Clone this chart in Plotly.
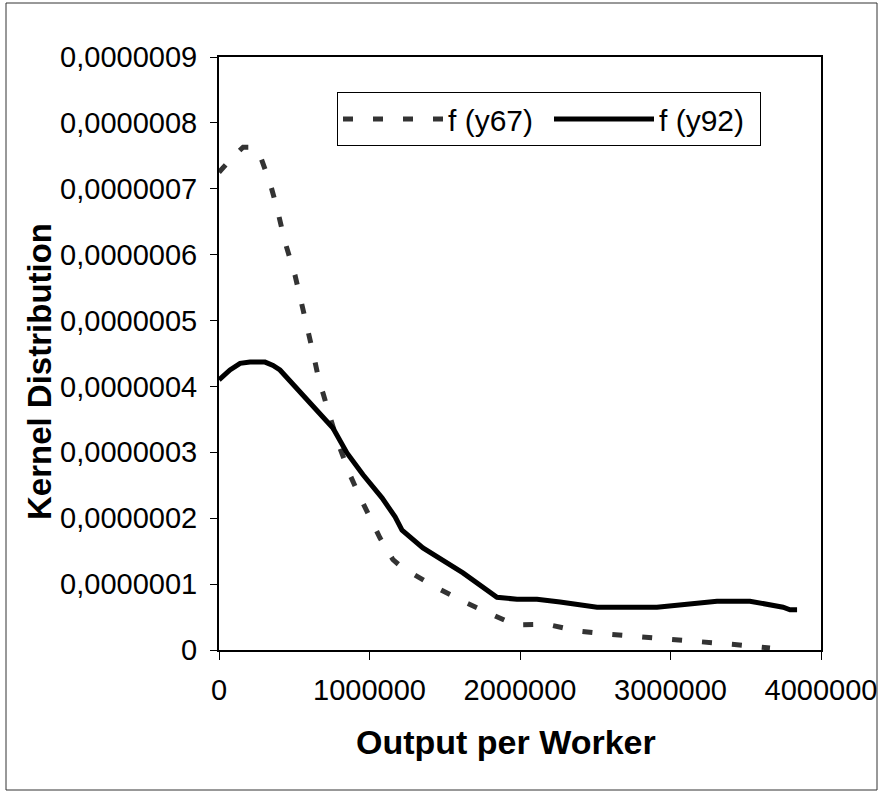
import plotly.graph_objects as go

# ---- data ----
x67 = [0, 86000, 160000, 226000, 272000, 339000, 385000, 439000, 505000, 551000,
       605000, 625000, 671000, 691000, 724000, 791000, 870000, 937000, 1070000,
       1156000, 1223000, 1435000, 1648000, 1847000, 1967000, 2179000, 2379000,
       2585000, 2811000, 3017000, 3229000, 3442000, 3661000]
y67 = [7.25, 7.47, 7.63, 7.63, 7.51, 7.09, 6.71, 6.19, 5.69, 5.24,
       4.75, 4.51, 4.02, 3.90, 3.64, 3.14, 2.66, 2.32, 1.70,
       1.37, 1.24, 0.96, 0.71, 0.50, 0.38, 0.39, 0.29,
       0.24, 0.20, 0.15, 0.12, 0.08, 0.03]

x92 = [0, 73000, 140000, 206000, 306000, 359000, 405000, 605000, 757000, 850000,
       957000, 1083000, 1170000, 1216000, 1355000, 1621000, 1847000, 1980000,
       2113000, 2266000, 2419000, 2512000, 2910000, 3176000, 3309000, 3528000,
       3748000, 3794000, 3841000]
y92 = [4.10, 4.25, 4.35, 4.37, 4.37, 4.32, 4.25, 3.76, 3.37, 2.99,
       2.66, 2.31, 2.02, 1.82, 1.55, 1.17, 0.80, 0.77,
       0.77, 0.73, 0.68, 0.65, 0.65, 0.71, 0.74, 0.74,
       0.65, 0.61, 0.61]

scale = 1e-7
series_names = ["f (y67)", "f (y92)"]

y_tickvals = [i * scale for i in range(10)]
y_ticktext = ["0", "0,0000001", "0,0000002", "0,0000003", "0,0000004",
              "0,0000005", "0,0000006", "0,0000007", "0,0000008", "0,0000009"]
x_tickvals = [0, 1000000, 2000000, 3000000, 4000000]
x_ticktext = ["0", "1000000", "2000000", "3000000", "4000000"]

x_title = "Output per Worker"
y_title = "Kernel Distribution"

FONT = "Liberation Sans, Arial, sans-serif"

fig = go.Figure()
fig.add_trace(go.Scatter(
    x=x67, y=[v * scale for v in y67], mode="lines", name=series_names[0],
    line=dict(color="#333333", width=5, dash="10px,20px")))
fig.add_trace(go.Scatter(
    x=x92, y=[v * scale for v in y92], mode="lines", name=series_names[1],
    line=dict(color="#000000", width=5)))

W, H = 881, 793
L, R, T, B = 219, 60, 57, 143
pw, ph = W - L - R, H - T - B

fig.update_layout(
    width=W, height=H,
    margin=dict(l=L, r=R, t=T, b=B, pad=0, autoexpand=False),
    paper_bgcolor="white", plot_bgcolor="white",
    font=dict(family=FONT, size=29, color="black"),
    showlegend=True,
    legend=dict(
        orientation="h",
        x=(337 - L) / pw, y=(650 - 92) / ph,
        xanchor="left", yanchor="top",
        bordercolor="black", borderwidth=1,
        bgcolor="white",
        font=dict(family=FONT, size=30, color="black"),
        itemwidth=100, entrywidth=96,
    ),
    xaxis=dict(
        range=[0, 4000000], tickvals=x_tickvals, ticktext=x_ticktext,
        showline=True, linecolor="black", linewidth=2, mirror=True,
        ticks="outside", ticklen=8, tickcolor="black", tickwidth=1,
        showgrid=False, zeroline=False, automargin=False,
        tickfont=dict(size=29), ticklabelstandoff=5,
    ),
    yaxis=dict(
        range=[0, 9e-7], tickvals=y_tickvals, ticktext=y_ticktext,
        showline=True, linecolor="black", linewidth=2, mirror=True,
        ticks="outside", ticklen=7, tickcolor="black", tickwidth=1,
        showgrid=False, zeroline=False, automargin=False,
        tickfont=dict(size=29), ticklabelstandoff=7,
    ),
    annotations=[
        dict(text="<b>%s</b>" % x_title, xref="paper", yref="paper",
             x=(506 - L) / pw, y=(650 - 742) / ph, xanchor="center", yanchor="middle",
             showarrow=False, font=dict(family=FONT, size=34, color="black")),
        dict(text="<b>%s</b>" % y_title, xref="paper", yref="paper",
             x=(39 - L) / pw, y=(650 - 372) / ph, xanchor="center", yanchor="middle",
             textangle=-90, showarrow=False,
             font=dict(family=FONT, size=33, color="black")),
    ],
    shapes=[dict(
        type="rect", xref="paper", yref="paper",
        x0=(6 - L) / pw, x1=(877 - L) / pw,
        y0=(650 - 790) / ph, y1=(650 - 3) / ph,
        line=dict(color="#333333", width=1), fillcolor="rgba(0,0,0,0)",
        layer="below")],
)

fig.write_html("out.html", config={"displayModeBar": False},
               post_script="document.body.style.margin='0px';")
